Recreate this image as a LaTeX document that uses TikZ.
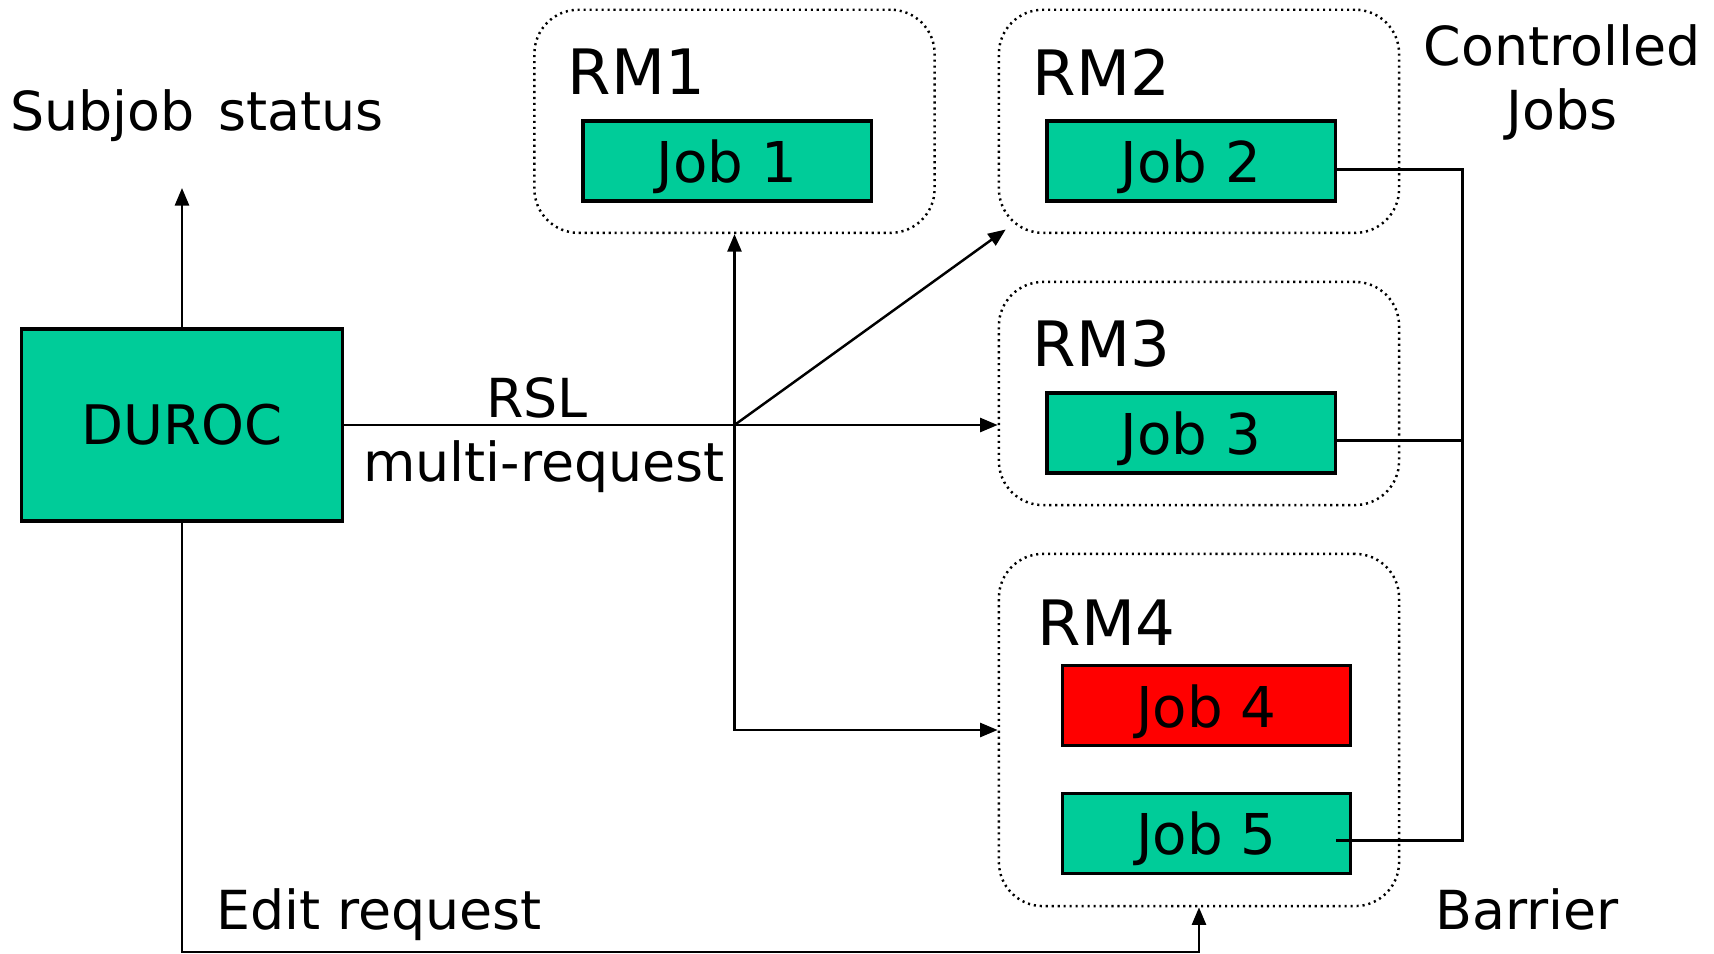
\documentclass[tikz,border=0pt]{standalone}
\usepackage{fontspec}
\setmainfont{DejaVu Sans}
\usetikzlibrary{arrows.meta,calc}
\definecolor{jobgreen}{RGB}{0,204,153}
\definecolor{jobred}{RGB}{255,0,0}
\begin{document}
\begin{tikzpicture}[x=0.01cm,y=-0.01cm,
  rmbox/.style={draw, line width=0.7pt, dash pattern=on 0.6pt off 1.1pt, rounded corners=0.44cm,
                minimum width=4cm, inner sep=0},
  jobbox/.style={draw, line width=0.9pt, fill=jobgreen, minimum width=2.88cm, minimum height=0.8cm,
                 inner sep=0, text depth=0pt, font=\fontsize{16}{19}\selectfont},
  lbl/.style={inner sep=0, anchor=base, font=\fontsize{15.3}{18.4}\selectfont},
  rmlbl/.style={inner sep=0, anchor=west, font=\fontsize{17.8}{21}\selectfont},
  conn/.style={line width=0.7pt},
  arr/.style={line width=0.7pt, -{Triangle[length=5pt,width=4pt]}}]
\useasboundingbox[fill=white] (0,0) rectangle (1714,954);

% resource manager boxes
\node[rmbox, minimum height=2.23cm] (rm1) at (734.5,121.3) {};
\node[rmbox, minimum height=2.23cm] (rm2) at (1199,121.3) {};
\node[rmbox, minimum height=2.23cm] (rm3) at (1199,393.5) {};
\node[rmbox, minimum height=3.52cm] (rm4) at (1199,730) {};

\node[rmlbl] (rm1l) at (567,72) {RM1};
\node[rmlbl] (rm2l) at (1032,72) {RM2};
\node[rmlbl] (rm3l) at (1032,344) {RM3};
\node[rmlbl] (rm4l) at (1037,623) {RM4};

% jobs
\node[jobbox] (job1) at (727,161) {Job 1};
\node[jobbox] (job2) at (1191,161) {Job 2};
\node[jobbox] (job3) at (1191,433) {Job 3};
\node[jobbox, fill=jobred] (job4) at (1206.5,705.8) {Job 4};
\node[jobbox] (job5) at (1206.5,833.5) {Job 5};

% DUROC
\node[draw, line width=0.9pt, fill=jobgreen, minimum width=3.2cm, minimum height=1.92cm,
      inner sep=0, font=\fontsize{15.5}{18.6}\selectfont] (duroc) at (182,425) {DUROC};

% labels
\node[lbl] (subl) at (197,130) {Subjob\hspace{0.12em} status};
\node[lbl] (ctl1) at (1562,65.6) {Controlled};
\node[lbl] (ctl2) at (1562,129) {Jobs};
\node[lbl] (rsl) at (537,417.5) {RSL};
\node[lbl] (mreq) at (544,481) {multi-request};
\node[lbl] (edit) at (379,929) {Edit request};
\node[lbl] (barl) at (1527,929) {Barrier};

% coordinates
\coordinate (j) at (734.5,425);
\coordinate (st) at (182,188);
\coordinate (rm2t) at (1005.7,229.5);
\coordinate (eb) at (182,952);
\coordinate (bt) at (1462.6,169.4);
\coordinate (b3) at (1462.6,440.5);
\coordinate (bb) at (1462.6,840.6);
\coordinate (j5) at (1336,840.6);

% connectors
\draw[arr] (duroc.north) -- (st);
\draw[conn] (duroc.east) -- (j);
\draw[arr] (j) -- (j -| rm3.west);
\draw[arr] (j) -- (rm1.south);
\draw[arr] (j) -- (rm2t);
\draw[arr] (j) |- (rm4.west);
\draw[arr] (duroc.south) -- (eb) -| (rm4.south);
\draw[conn] (job2.east |- bt) -- (bt) -- (bb) -- (j5);
\draw[conn] (job3.east |- b3) -- (b3);
\end{tikzpicture}
\end{document}
